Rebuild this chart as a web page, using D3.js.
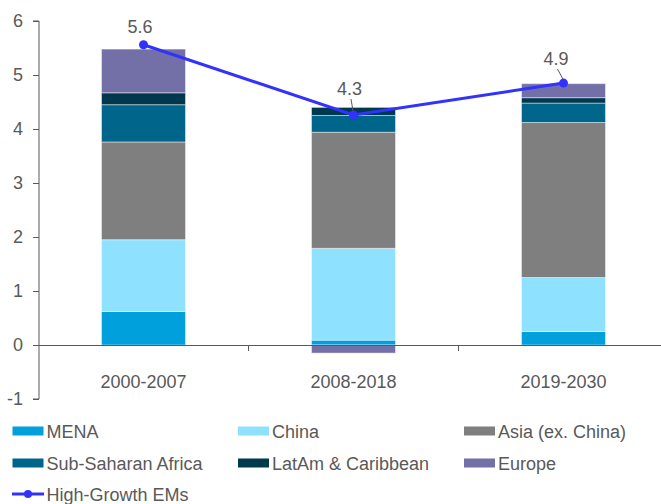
<!DOCTYPE html>
<html><head><meta charset="utf-8">
<script src="https://cdn.jsdelivr.net/npm/d3@7"></script>
<style>body{margin:0;background:#fff}svg{display:block;font-family:"Liberation Sans",Arial,sans-serif}</style>
</head><body><svg id="c" width="661" height="504"></svg>
<script>
const categories = ["2000-2007", "2008-2018", "2019-2030"];
const seriesNames = ["MENA", "China", "Asia (ex. China)", "Sub-Saharan Africa", "LatAm & Caribbean", "Europe"];
const MENA = [0.62, 0.09, 0.25];
const China = [1.33, 1.70, 1.00];
const Asia = [1.81, 2.15, 2.87];
const SSA = [0.69, 0.31, 0.36];
const LatAm = [0.22, 0.15, 0.10];
const Europe = [0.81, -0.15, 0.26];
const highGrowth = [5.56, 4.26, 4.85];
const highGrowthLabels = ["5.6", "4.3", "4.9"];
const yTicks = [-1, 0, 1, 2, 3, 4, 5, 6];
const colors = ["#00a0dc", "#8ee1ff", "#7f7f7f", "#00658a", "#00384d", "#7370a8"];
const lineColor = "#3232ff";

const svg = d3.select("#c");
const x = d3.scaleBand().domain(categories).range([38.5, 668.5]).paddingInner(0.6).paddingOuter(0.3);
const y = d3.scaleLinear().domain([-1, 6]).range([399, 21]);
const axisCol = "#595959";
const FF = "Liberation Sans, Arial, sans-serif";

const seriesData = [MENA, China, Asia, SSA, LatAm, Europe];
const rects = [];
categories.forEach((c, i) => {
  let pos = 0, neg = 0;
  seriesData.forEach((s, k) => {
    const v = s[i];
    let y0, y1;
    if (v >= 0) { y0 = pos; y1 = pos + v; pos = y1; } else { y0 = neg + v; y1 = neg; neg = y0; }
    rects.push({c, k, y0, y1});
  });
});

svg.append("g").selectAll("rect").data(rects).join("rect")
  .attr("x", d => x(d.c)).attr("width", x.bandwidth())
  .attr("y", d => y(d.y1)).attr("height", d => y(d.y0) - y(d.y1))
  .attr("fill", d => colors[d.k])
  .attr("stroke", "rgba(255,255,255,0.45)").attr("stroke-width", 1);

// y axis
const yAxis = svg.append("g").attr("transform", "translate(39,0)")
  .call(d3.axisLeft(y).tickValues(yTicks).tickSize(6).tickPadding(10).tickFormat(d => String(d)));
yAxis.select(".domain").attr("stroke", axisCol).attr("d", `M-6,${y(6)}H0V${y(-1)}H-6`);
yAxis.selectAll("line").attr("stroke", axisCol);
yAxis.selectAll("text").attr("fill", axisCol).style("font-size", "18px").style("font-family", FF);

// x axis at zero
const xAxis = svg.append("g").attr("transform", `translate(0,${y(0)})`)
  .call(d3.axisBottom(x).tickSize(0).tickPadding(0));
xAxis.select(".domain").attr("stroke", axisCol).attr("d", `M39,0.5H661`);
xAxis.selectAll("text").attr("fill", axisCol).attr("y", 43).attr("dy", 0)
  .style("font-size", "18px").style("font-family", FF);
const stepW = x.step();
svg.append("g").selectAll("line").data(categories.slice(0, 2)).join("line")
  .attr("x1", d => x(d) + x.bandwidth() / 2 + stepW / 2).attr("x2", d => x(d) + x.bandwidth() / 2 + stepW / 2)
  .attr("y1", y(0)).attr("y2", y(0) + 6).attr("stroke", axisCol);

// line
const cx = d => x(d) + x.bandwidth() / 2;
const line = d3.line().x((d, i) => cx(categories[i])).y(d => y(d));
svg.append("path").datum(highGrowth).attr("d", line).attr("fill", "none")
  .attr("stroke", lineColor).attr("stroke-width", 3);
svg.append("g").selectAll("circle").data(highGrowth).join("circle")
  .attr("cx", (d, i) => cx(categories[i])).attr("cy", d => y(d)).attr("r", 4.5).attr("fill", lineColor);

// labels (baseline offsets relative to point)
const labOff = [[-3.5, -12], [-4, -20], [-7.5, -18]];
svg.append("g").selectAll("text").data(highGrowth).join("text")
  .attr("x", (d, i) => cx(categories[i]) + labOff[i][0])
  .attr("y", (d, i) => y(d) + labOff[i][1])
  .attr("text-anchor", "middle").attr("fill", axisCol).style("font-size", "18px")
  .text((d, i) => highGrowthLabels[i]);
[1, 2].forEach(i => {
  const px = cx(categories[i]), py = y(highGrowth[i]);
  svg.append("line").attr("x1", px + labOff[i][0] + 1.5).attr("y1", py + labOff[i][1] + 4)
    .attr("x2", px - 0.5).attr("y2", py - 4).attr("stroke", axisCol).attr("stroke-width", 1);
});

// legend
const legCols = [12.5, 238, 464];
const legRows = [431, 463];
const leg = svg.append("g").style("font-family", FF);
seriesNames.forEach((n, k) => {
  const lx = legCols[k % 3], ly = legRows[Math.floor(k / 3)];
  leg.append("rect").attr("x", lx).attr("y", ly - 4.5).attr("width", 31).attr("height", 9).attr("fill", colors[k]);
  leg.append("text").attr("x", lx + 34).attr("y", ly + 6.5).attr("fill", axisCol).style("font-size", "18px").text(n);
});
leg.append("line").attr("x1", 12).attr("x2", 44).attr("y1", 494).attr("y2", 494).attr("stroke", lineColor).attr("stroke-width", 3);
leg.append("circle").attr("cx", 28).attr("cy", 494).attr("r", 4).attr("fill", lineColor);
leg.append("text").attr("x", 46.5).attr("y", 500.5).attr("fill", axisCol).style("font-size", "18px").text("High-Growth EMs");
</script></body></html>
